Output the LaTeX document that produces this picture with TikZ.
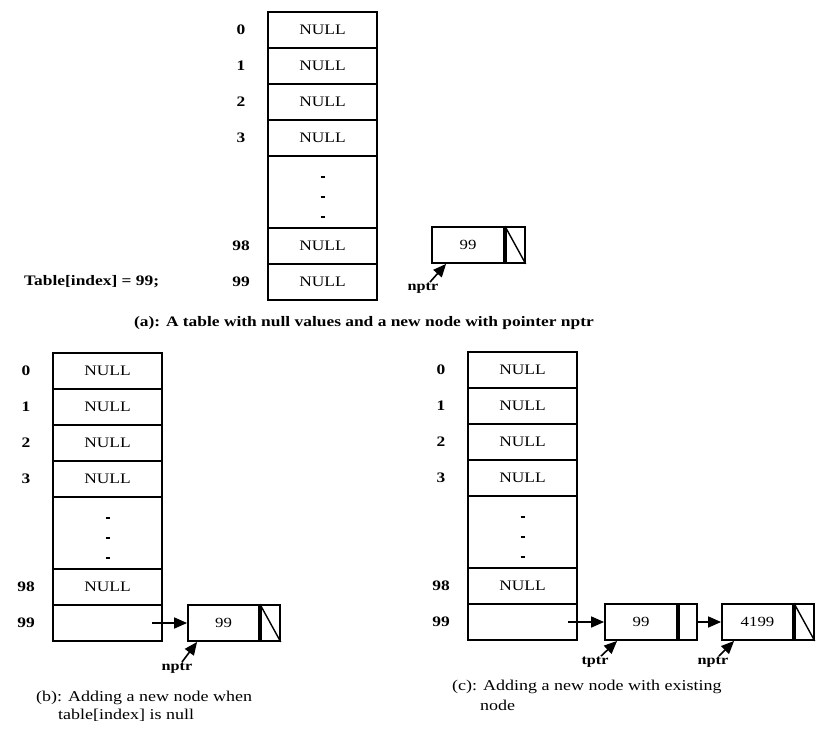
\documentclass[tikz,border=0pt]{standalone}
\usepackage{fontspec}
\setmainfont{Liberation Serif}[FakeStretch=1.2]
\usetikzlibrary{arrows.meta,calc}
\tikzset{
  cell/.style={draw, line width=1.8pt, minimum width=109pt, minimum height=36pt, inner sep=0pt, font=\fontsize{14.5}{16}\selectfont},
  idx/.style={font=\bfseries\fontsize{14.5}{16}\selectfont, inner sep=0pt},
  dcell/.style={draw, line width=1.8pt, minimum height=36pt, inner sep=0pt, font=\fontsize{14}{16}\selectfont},
  pcell/.style={draw, line width=1.8pt, minimum height=36pt, inner sep=0pt},
  ptrlab/.style={font=\bfseries\fontsize{13.5}{15}\selectfont, inner sep=0.5pt},
  arr/.style={line width=1.6pt, -{Triangle[length=13pt,width=11pt]}},
  captext/.style={font=\fontsize{15}{17}\selectfont, inner sep=0pt},
  dotmark/.style={line width=1.6pt},
  nul/.style={line width=1.4pt},
}
\newcommand\htable[4]{%
  \begin{scope}[shift={(#2,#3)}]
    \node[cell] (#1r0) at (54.5,18) {NULL};
    \node[cell] (#1r1) at (54.5,54) {NULL};
    \node[cell] (#1r2) at (54.5,90) {NULL};
    \node[cell] (#1r3) at (54.5,126) {NULL};
    \node[cell, minimum height=72pt] (#1gap) at (54.5,180) {};
    \node[cell] (#1r98) at (54.5,234) {NULL};
    \node[cell] (#1r99) at (54.5,270) {#4};
    \node[idx] (#1l0) at (-27,18) {0};
    \node[idx] (#1l1) at (-27,54) {1};
    \node[idx] (#1l2) at (-27,90) {2};
    \node[idx] (#1l3) at (-27,126) {3};
    \node[idx] (#1l98) at (-27,234) {98};
    \node[idx] (#1l99) at (-27,270) {99};
    \draw[dotmark] (52.5,165) -- (56.5,165);
    \draw[dotmark] (52.5,185) -- (56.5,185);
    \draw[dotmark] (52.5,205) -- (56.5,205);
  \end{scope}}
\begin{document}
\begin{tikzpicture}[x=1pt,y=-1pt]
  \useasboundingbox (0,0) rectangle (816,729);
  \fill[white] (0,0) rectangle (816,729);

  % ---------- (a) ----------
  \htable{a}{268}{12}{NULL}
  \node[idx, anchor=west] (assign) at (24,282) {Table[index] = 99;};
  \node[dcell, minimum width=72pt] (nA) at (468,245) {99};
  \node[pcell, minimum width=19pt, anchor=west] (nAp) at (nA.east) {};
  \draw[nul] (nAp.north west) -- (nAp.south east);
  \node[ptrlab] (labA) at (423,288) {nptr};
  \draw[arr] ([xshift=7pt]labA.north) -- ([xshift=15pt]nA.south west);
  \node[captext, font=\bfseries\fontsize{14.5}{17}\selectfont] (capA) at (364,323) {(a): A table with null values and a new node with pointer nptr};

  % ---------- (b) ----------
  \htable{b}{53}{353}{}
  \node[dcell, minimum width=71pt] (nB) at (223.5,623) {99};
  \node[pcell, minimum width=19pt, anchor=west] (nBp) at (nB.east) {};
  \draw[nul] (nBp.north west) -- (nBp.south east);
  \draw[arr] ([xshift=-11pt]br99.east) -- (nB.west);
  \node[ptrlab] (labB) at (177,668) {nptr};
  \draw[arr] ([xshift=5pt]labB.north) -- ([xshift=10pt]nB.south west);
  \node[captext, anchor=west] (capB1) at (36,698) {(b): Adding a new node when};
  \node[captext, anchor=west] (capB2) at (58,715) {table[index] is null};

  % ---------- (c) ----------
  \htable{c}{468}{352}{}
  \node[dcell, minimum width=72pt] (nC1) at (641,622) {99};
  \node[pcell, minimum width=18pt, anchor=west] (nC1p) at (nC1.east) {};
  \node[dcell, minimum width=71pt] (nC2) at (757.5,622) {4199};
  \node[pcell, minimum width=19pt, anchor=west] (nC2p) at (nC2.east) {};
  \draw[nul] (nC2p.north west) -- (nC2p.south east);
  \draw[arr] ([xshift=-10pt]cr99.east) -- (nC1.west);
  \draw[arr] (nC1p.east) -- (nC2.west);
  \node[ptrlab] (labT) at (595,662) {tptr};
  \draw[arr] ([xshift=6pt]labT.north) -- ([xshift=13pt]nC1.south west);
  \node[ptrlab] (labC) at (713,662) {nptr};
  \draw[arr] ([xshift=6pt]labC.north) -- ([xshift=13pt]nC2.south west);
  \node[captext, anchor=west] (capC1) at (452,687) {(c): Adding a new node with existing};
  \node[captext, anchor=west] (capC2) at (480,705) {node};
\end{tikzpicture}
\end{document}
